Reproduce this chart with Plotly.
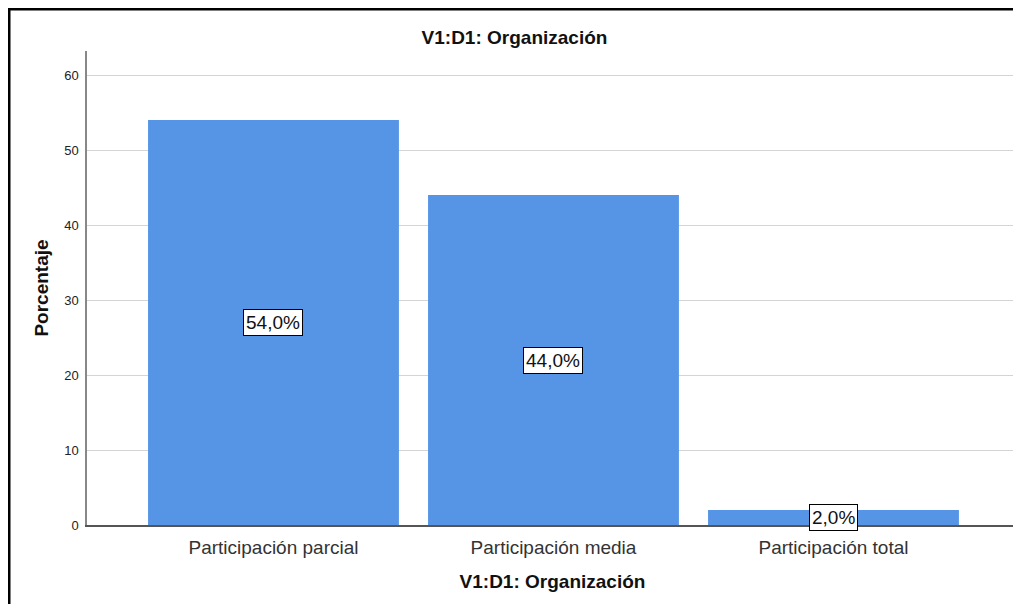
import plotly.graph_objects as go

categories = ["Participación parcial", "Participación media", "Participación total"]
values = [54.0, 44.0, 2.0]
value_labels = ["54,0%", "44,0%", "2,0%"]
y_ticks = [0, 10, 20, 30, 40, 50, 60]

FONT = "Liberation Sans, Arial, sans-serif"
BAR = "#5695E5"

# the page body adds an 8px offset; compensate in the figure size/margins
W, H = 1013, 596
L, R, T, B = 79, 3, 43, 79
PW, PH = W - L - R, H - T - B

fig = go.Figure()
fig.add_trace(go.Bar(
    x=categories, y=values, marker=dict(color=BAR, line=dict(width=0)),
    hoverinfo="skip",
))

for c, v, t in zip(categories, values, value_labels):
    fig.add_annotation(
        x=c, y=v / 2, text=t, showarrow=False,
        font=dict(family=FONT, size=19, color="#111111"),
        bgcolor="white", bordercolor="black", borderwidth=1, borderpad=2,
    )

# outer frame (top and left edges visible)
fig.add_shape(type="rect", xref="paper", yref="paper",
              x0=(1.0 - L) / PW, x1=1.05, y0=-0.3, y1=1 + (T - 1.0) / PH,
              line=dict(color="black", width=3), fillcolor="rgba(0,0,0,0)",
              layer="above")

fig.update_layout(
    width=W, height=H,
    margin=dict(l=L, r=R, t=T, b=B),
    paper_bgcolor="white", plot_bgcolor="white",
    bargap=0.104,
    showlegend=False,
    font=dict(family=FONT, color="#222222"),
    title=dict(text="<b>V1:D1: Organización</b>", x=0.5, xanchor="center",
               y=1 - 29 / H, yanchor="middle",
               font=dict(family=FONT, size=19, color="#111111")),
    xaxis=dict(
        type="category", range=[-0.666, 2.659],
        showgrid=False, showline=True, linecolor="#555555", linewidth=1.5,
        ticks="", ticklabelstandoff=4,
        tickfont=dict(family=FONT, size=19, color="#333333"),
        title=dict(text="<b>V1:D1: Organización</b>", standoff=18,
                   font=dict(family=FONT, size=19, color="#111111")),
    ),
    yaxis=dict(
        range=[0, 63.2], tickvals=y_ticks,
        showgrid=True, gridcolor="#d4d4d4", gridwidth=1.2,
        showline=True, linecolor="#888888", linewidth=1.5,
        zeroline=False, ticks="", ticklen=0, ticklabelstandoff=4,
        tickfont=dict(family=FONT, size=13, color="#222222"),
        title=dict(text="<b>Porcentaje</b>", standoff=11,
                   font=dict(family=FONT, size=19, color="#111111")),
    ),
)

fig.write_html("out.html")
